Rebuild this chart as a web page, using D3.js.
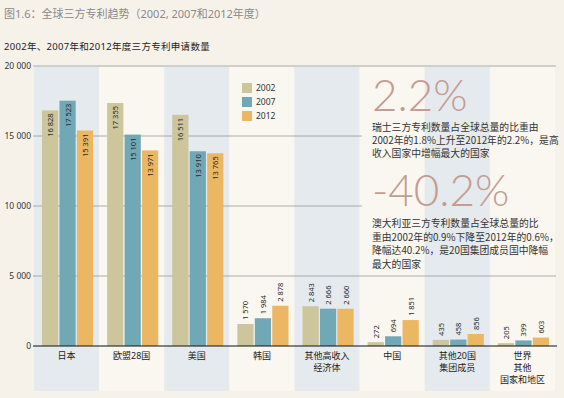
<!DOCTYPE html>
<html>
<head>
<meta charset="utf-8">
<script src="https://cdn.jsdelivr.net/npm/d3@7"></script>
<style>
  body { margin: 0; background: #f6f2ea; }
  svg { display: block; font-family: "Noto Sans", "Noto Sans CJK SC", sans-serif; }
</style>
</head>
<body>
<script>
// Chart data
const categories = ["日本", "欧盟28国", "美国", "韩国", "其他高收入经济体", "中国", "其他20国集团成员", "世界其他国家和地区"];
const categoryLines = [["日本"], ["欧盟28国"], ["美国"], ["韩国"], ["其他高收入", "经济体"], ["中国"], ["其他20国", "集团成员"], ["世界", "其他", "国家和地区"]];
const years = ["2002", "2007", "2012"];
const values2002 = [16828, 17355, 16511, 1570, 2843, 272, 435, 205];
const values2007 = [17523, 15101, 13910, 1984, 2666, 694, 458, 399];
const values2012 = [15391, 13971, 13765, 2878, 2660, 1851, 856, 603];
const yTicks = [0, 5000, 10000, 15000, 20000];

const titleText = "图1.6：全球三方专利趋势（2002, 2007和2012年度）";
const subtitleText = "2002年、2007年和2012年度三方专利申请数量";
const note1Big = "2.2%";
const note1Lines = ["瑞士三方专利数量占全球总量的比重由", "2002年的1.8%上升至2012年的2.2%，是高", "收入国家中增幅最大的国家"];
const note2Big = "-40.2%";
const note2Lines = ["澳大利亚三方专利数量占全球总量的比", "重由2002年的0.9%下降至2012年的0.6%，", "降幅达40.2%，是20国集团成员国中降幅", "最大的国家"];

const width = 564;
const height = 398;
const colors = { "2002": "#cdc59c", "2007": "#71a8b5", "2012": "#ebb762" };

const seriesByYear = { "2002": values2002, "2007": values2007, "2012": values2012 };

const svg = d3.select("body")
  .append("svg")
  .attr("width", width)
  .attr("height", height);

svg.append("rect").attr("width", width).attr("height", height).attr("fill", "#f6f2ea");

// Scales
const x = d3.scaleBand().domain(categories).range([34, 555]);
const xInner = d3.scaleBand().domain(years).range([8, x.bandwidth() - 6]).paddingInner(0.07);
const y = d3.scaleLinear().domain([0, 20000]).range([346, 66]);

// Background bands
svg.append("g")
  .selectAll("rect")
  .data(categories)
  .join("rect")
  .attr("x", (d) => x(d))
  .attr("y", y(20000) + 1)
  .attr("width", x.bandwidth())
  .attr("height", 390 - y(20000))
  .attr("fill", (d, i) => (i % 2 === 0 ? "#e5eaee" : "#faf7f0"));

// Gridlines (the middle ones stop before the notes)
svg.append("g")
  .selectAll("line")
  .data(yTicks.filter((t) => t > 0))
  .join("line")
  .attr("x1", 33)
  .attr("x2", (d) => (d === 10000 || d === 15000 ? 362 : 556))
  .attr("y1", (d) => y(d))
  .attr("y2", (d) => y(d))
  .attr("stroke", "#9a9a9a")
  .attr("stroke-width", 0.8);

// Y tick labels
svg.append("g")
  .selectAll("text")
  .data(yTicks)
  .join("text")
  .attr("x", 31)
  .attr("y", (d) => y(d) + 3)
  .attr("text-anchor", "end")
  .attr("font-size", 8.5)
  .attr("fill", "#333")
  .text((d) => d3.format(",")(d).replace(",", " "));

// Bars
const rows = [];
categories.forEach((c, i) => {
  years.forEach((yr) => rows.push({ cat: c, year: yr, value: seriesByYear[yr][i] }));
});

const groups = svg.append("g");
groups.selectAll("rect")
  .data(rows)
  .join("rect")
  .attr("x", (d) => x(d.cat) + xInner(d.year))
  .attr("y", (d) => y(d.value))
  .attr("width", xInner.bandwidth())
  .attr("height", (d) => y(0) - y(d.value))
  .attr("fill", (d) => colors[d.year]);

// Value labels, rotated
const fmt = (v) => d3.format(",")(v).replace(",", " ");
groups.selectAll("text")
  .data(rows)
  .join("text")
  .attr("transform", (d) => {
    const cx = x(d.cat) + xInner(d.year) + xInner.bandwidth() / 2 + 3;
    const inside = d.value > 5000;
    const ty = inside ? y(d.value) + 3 : y(d.value) - 4;
    return `translate(${cx},${ty}) rotate(-90)`;
  })
  .attr("text-anchor", (d) => (d.value > 5000 ? "end" : "start"))
  .attr("font-size", 7.5)
  .attr("fill", "#2a2a2a")
  .text((d) => fmt(d.value));

// Baseline
svg.append("line")
  .attr("x1", 33)
  .attr("x2", 557)
  .attr("y1", y(0))
  .attr("y2", y(0))
  .attr("stroke", "#111")
  .attr("stroke-width", 1.2);

// Category labels
const catLabels = svg.append("g")
  .selectAll("text")
  .data(categories)
  .join("text")
  .attr("x", (d) => x(d) + x.bandwidth() / 2)
  .attr("y", 359)
  .attr("text-anchor", "middle")
  .attr("font-size", 9)
  .attr("fill", "#222");

catLabels.selectAll("tspan")
  .data((d, i) => categoryLines[i])
  .join("tspan")
  .attr("x", function () { return d3.select(this.parentNode).attr("x"); })
  .attr("dy", (d, i) => (i === 0 ? 0 : 12))
  .text((d) => d);

// Legend
const legend = svg.append("g").attr("transform", "translate(242, 83)");
legend.selectAll("rect")
  .data(years)
  .join("rect")
  .attr("x", 0)
  .attr("y", (d, i) => i * 14)
  .attr("width", 10)
  .attr("height", 10)
  .attr("fill", (d) => colors[d]);
legend.selectAll("text")
  .data(years)
  .join("text")
  .attr("x", 14)
  .attr("y", (d, i) => i * 14 + 8)
  .attr("font-size", 8.5)
  .attr("fill", "#333")
  .text((d) => d);

// Titles
svg.append("text")
  .attr("x", 4)
  .attr("y", 18)
  .attr("font-size", 11)
  .attr("fill", "#8a8a8a")
  .text(titleText);

svg.append("text")
  .attr("x", 4)
  .attr("y", 50)
  .attr("font-size", 9.5)
  .attr("letter-spacing", 0.3)
  .attr("fill", "#222")
  .text(subtitleText);

// Notes on the right
const notes = svg.append("g")
  .attr("transform", "translate(372, 0)")
  .style("font-family", "'Noto Sans CJK SC', sans-serif");

notes.append("text")
  .attr("y", 111)
  .style("font-family", "Lato, 'Open Sans', sans-serif")
  .attr("font-weight", 300)
  .attr("font-size", 44)
  .attr("fill", "#c49c92")
  .text(note1Big);

notes.append("g")
  .selectAll("text")
  .data(note1Lines)
  .join("text")
  .attr("y", (d, i) => 131 + i * 13)
  .attr("font-size", 9.8)
  .attr("fill", "#333")
  .text((d) => d);

notes.append("text")
  .attr("y", 206)
  .style("font-family", "Lato, 'Open Sans', sans-serif")
  .attr("font-weight", 300)
  .attr("font-size", 44)
  .attr("fill", "#c49c92")
  .text(note2Big);

notes.append("g")
  .selectAll("text")
  .data(note2Lines)
  .join("text")
  .attr("y", (d, i) => 227 + i * 13.5)
  .attr("font-size", 9.8)
  .attr("fill", "#333")
  .text((d) => d);
</script>
</body>
</html>
